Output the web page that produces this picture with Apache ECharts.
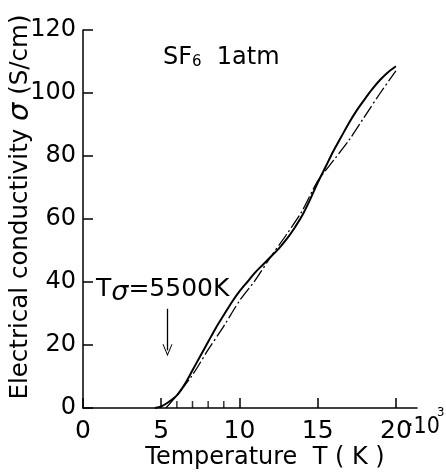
<!DOCTYPE html>
<html>
<head>
<meta charset="utf-8">
<script src="https://cdn.jsdelivr.net/npm/echarts@6/dist/echarts.min.js"></script>
<style>html,body{margin:0;padding:0;background:#fff}#c{width:446px;height:475px}</style>
</head>
<body>
<div id="c"></div>
<script>
// Temperature in 10^3 K
var solidT     = [4.6, 5.0, 5.5, 6.0, 6.5, 7.0, 7.5, 8.0, 8.5, 9.0, 9.5, 10.0, 10.5, 11.0, 11.5, 12.0, 12.5, 13.0, 13.5, 14.0, 14.5, 15.0, 15.5, 16.0, 16.5, 17.0, 17.5, 18.0, 18.5, 19.0, 19.5, 20.0];
var solidSigma = [0, 0.5, 2, 4, 7.5, 12, 16.5, 21, 25.5, 29.5, 33.5, 37, 40, 43, 45.5, 48, 50.5, 53.5, 57, 61, 66, 71.5, 76.5, 81.5, 86, 90.5, 94.5, 98, 101.3, 104.2, 106.6, 108.5];
var dashT      = [5.3, 6, 7, 8, 9, 10, 11, 12, 13, 14, 15, 16, 17, 18, 19, 20];
var dashSigma  = [0, 4, 10.5, 18.5, 26, 34, 40.5, 48, 55, 62.5, 72, 78.5, 85, 92.5, 100, 107];
var xTicks = [0, 5, 10, 15, 20];
var yTicks = [0, 20, 40, 60, 80, 100, 120];
var minorTickT = [6, 7, 8, 9];

function pairs(a, b) { return a.map(function (v, i) { return [v, b[i]]; }); }

var FONT = 'DejaVu Sans';
var COND = 'DejaVu Sans Condensed';
var chart = echarts.init(document.getElementById('c'));
chart.setOption({
  backgroundColor: '#fff',
  animation: false,
  grid: { left: 83, top: 30, width: 334, height: 378, containLabel: false, outerBoundsMode: 'none' },
  xAxis: {
    type: 'value', min: 0, max: 21.35, interval: 5,
    splitLine: { show: false },
    axisLine: { lineStyle: { color: '#000', width: 1.5 } },
    axisTick: { inside: true, length: 10, lineStyle: { color: '#000', width: 1.5 } },
    axisLabel: { color: '#000', fontFamily: FONT, fontSize: 25, margin: 11, showMaxLabel: false,
      formatter: function (v) { return xTicks.indexOf(v) >= 0 ? String(v) : ''; } },
    name: 'Temperature  T ( K )', nameLocation: 'middle', nameGap: 38, nameMoveOverlap: false,
    nameTextStyle: { color: '#000', fontFamily: FONT, fontSize: 24, padding: [0, 0, 0, 30] }
  },
  yAxis: {
    type: 'value', min: 0, max: 120, interval: 20,
    splitLine: { show: false },
    axisLine: { lineStyle: { color: '#000', width: 1.5 } },
    axisTick: { inside: true, length: 10, lineStyle: { color: '#000', width: 1.5 } },
    axisLabel: { color: '#000', fontFamily: FONT, fontSize: 24, margin: 7,
      formatter: function (v) { return yTicks.indexOf(v) >= 0 ? String(v) : ''; } },
    name: '{t|Electrical conductivity }{s|σ}{t| (S/cm)}', nameLocation: 'middle', nameGap: 48, nameMoveOverlap: false,
    nameTextStyle: { padding: [0, 0, 0, 24],
      rich: { t: { color: '#000', fontFamily: FONT, fontSize: 24.5 },
              s: { color: '#000', fontFamily: FONT, fontSize: 29, fontStyle: 'italic' } } }
  },
  series: [
    { type: 'line', data: pairs(solidT, solidSigma), smooth: 0.3, symbol: 'none',
      lineStyle: { color: '#000', width: 2 } },
    { type: 'line', data: pairs(dashT, dashSigma), smooth: 0.3, symbol: 'none',
      lineStyle: { color: '#000', width: 1.3, type: [14, 3, 2, 3] },
      markLine: { silent: true, symbol: ['none', 'path://M0,12 L5,0 L10,12 L9,12 L5,2.5 L1,12 Z'], symbolSize: [10, 12],
        lineStyle: { color: '#000', width: 1.3, type: 'solid' }, label: { show: false },
        data: [[{ coord: [5.4, 31.5] }, { coord: [5.4, 18.3] }]] } },
    { type: 'scatter', data: minorTickT.map(function (t) { return [t, 0]; }),
      symbol: 'rect', symbolSize: [1.5, 7], symbolOffset: [0, -3.5],
      itemStyle: { color: '#000' }, silent: true }
  ],
  graphic: [
    { type: 'text', left: 163, top: 46, style: {
        text: '{a|SF}{b|6}{a|  1atm}', fill: '#000',
        rich: { a: { fontFamily: FONT, fontSize: 24, fill: '#000' },
                b: { fontFamily: FONT, fontSize: 15, fill: '#000', padding: [8, 0, 0, 0] } } } },
    { type: 'text', left: 96, top: 277, style: {
        text: '{a|T}{s|σ}{a|=5500K}', fill: '#000',
        rich: { a: { fontFamily: FONT, fontSize: 25, fill: '#000' },
                s: { fontFamily: FONT, fontSize: 27, fontStyle: 'italic', fill: '#000', padding: [6, 0, 0, 0] } } } },
    { type: 'text', x: 407, y: 427, style: { text: '·10', fill: '#000', fontFamily: COND, fontSize: 23, verticalAlign: 'middle', align: 'left' } },
    { type: 'text', x: 437, y: 413, style: { text: '3', fill: '#000', fontFamily: COND, fontSize: 13, verticalAlign: 'middle', align: 'left' } }
  ]
});
</script>
</body>
</html>
